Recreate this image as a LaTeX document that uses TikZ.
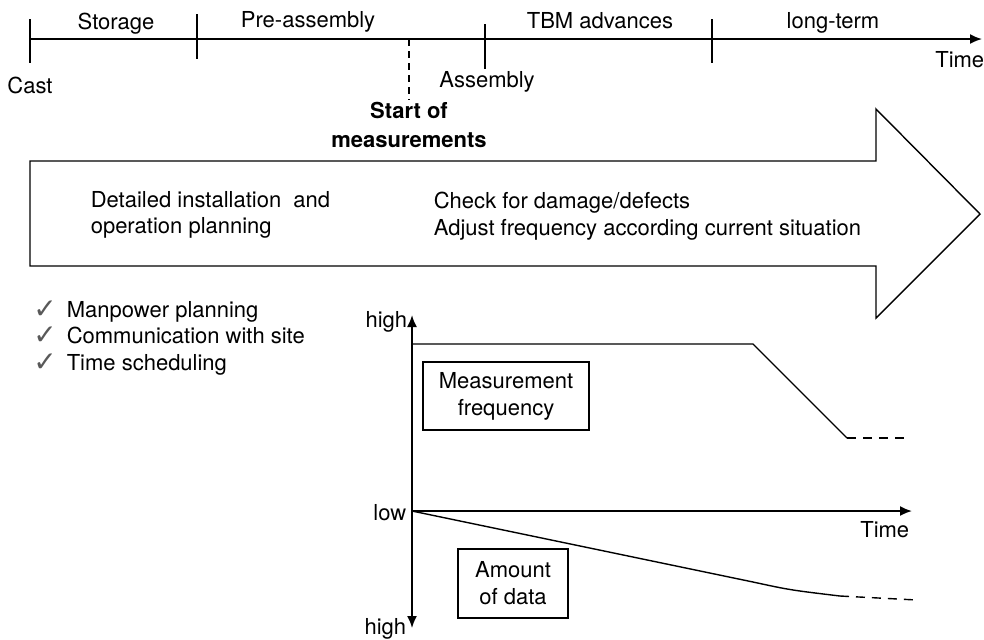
\documentclass[tikz,border=0pt]{standalone}
\usepackage{fontspec}
\setmainfont{TeX Gyre Heros}
\newfontfamily\symfont{DejaVu Sans}
\usetikzlibrary{arrows.meta}
\begin{document}
\begin{tikzpicture}[x=0.5pt,y=-0.5pt,line width=0.8pt,
  lbl/.style={inner sep=0pt,anchor=base,font=\fontsize{11}{13.5}\selectfont},
  ok/.style={inner sep=0pt,anchor=base,text=black!65,font=\symfont\fontsize{14}{16}\selectfont},
  box/.style={draw,line width=0.7pt,inner sep=0pt,align=center,font=\fontsize{11}{13.5}\selectfont},
  axis/.style={line width=0.9pt,-{Latex[length=6pt,width=5pt]}},
  tail/.style={line width=0.7pt,dash pattern=on 4.5pt off 3.5pt}]
  \useasboundingbox (0,0) rectangle (984,639);

  % time line with its phases
  \coordinate (cast) at (30,39);
  \coordinate (tend) at (982,39);
  \coordinate (start) at (409,39);
  \draw[axis] (cast) -- (tend);
  \draw (30,19) -- (30,63);
  \draw (197,14) -- (197,59);
  \draw (485,24) -- (485,69);
  \draw (712,19) -- (712,63);
  \node[lbl] (storage) at (116,29) {Storage};
  \node[lbl] (pre) at (308,27) {Pre-assembly};
  \node[lbl] (tbm) at (600,28) {TBM advances};
  \node[lbl] (long) at (833,28) {long-term};
  \node[lbl,anchor=base east] (time1) at (985,67) {Time};
  \node[lbl] (castlbl) at (30,93) {Cast};
  \node[lbl] (assembly) at (487,87) {Assembly};
  \node[lbl,font=\fontsize{11}{13.5}\selectfont\bfseries] (meas1) at (409,118) {Start of};
  \node[lbl,font=\fontsize{11}{13.5}\selectfont\bfseries] (meas2) at (409,147) {measurements};
  \coordinate (startend) at (409,100);
  \draw[line width=0.7pt,dash pattern=on 3.5pt off 2.5pt] (start) -- (startend);

  % big arrow
  \draw[line width=0.7pt] (30,161) -- (876,161) -- (876,109) -- (980,214)
    -- (876,318) -- (876,266) -- (30,266) -- cycle;
  \node[lbl,anchor=base west] (plan1) at (90,207) {Detailed installation\ \ and};
  \node[lbl,anchor=base west] (plan2) at (90,233) {operation planning};
  \node[lbl,anchor=base west] (check1) at (433,208) {Check for damage/defects};
  \node[lbl,anchor=base west] (check2) at (433,235) {Adjust frequency according current situation};

  % check list
  \node[lbl,anchor=base west] (man) at (66,317) {Manpower planning};
  \node[lbl,anchor=base west] (com) at (66,343) {Communication with site};
  \node[lbl,anchor=base west] (sched) at (66,370) {Time scheduling};
  \node[ok] (ok1) at (45,318) {✓};
  \node[ok] (ok2) at (45,344) {✓};
  \node[ok] (ok3) at (45,371) {✓};

  % chart
  \coordinate (o) at (412,511);
  \coordinate (top) at (412,315);
  \coordinate (bot) at (412,628);
  \coordinate (tx) at (912,511);
  \draw[axis] (o) -- (top);
  \draw[axis] (o) -- (bot);
  \draw[axis] (o) -- (tx);
  \node[lbl,anchor=base east] (high1) at (408,327) {high};
  \node[lbl,anchor=base east] (low) at (407,520) {low};
  \node[lbl,anchor=base east] (high2) at (407,634) {high};
  \node[lbl,anchor=base east] (time2) at (910,537) {Time};

  \coordinate (f0) at (412,344);
  \coordinate (f1) at (753,344);
  \coordinate (f2) at (847,438);
  \coordinate (f3) at (910,438);
  \draw[line width=0.7pt] (f0) -- (f1) -- (f2);
  \draw[tail] (f2) -- (f3);
  \node[box,minimum width=83pt,minimum height=34pt] (freq) at (506,396) {Measurement\\frequency};

  \coordinate (d1) at (753,582);
  \coordinate (d2) at (840,596);
  \coordinate (d3) at (917,600);
  \draw[line width=0.7pt] (o) -- (d1) .. controls (790,590) .. (d2);
  \draw[tail] (d2) -- (d3);
  \node[box,minimum width=55pt,minimum height=34.5pt] (amount) at (513,583.5) {Amount\\of data};
\end{tikzpicture}
\end{document}
